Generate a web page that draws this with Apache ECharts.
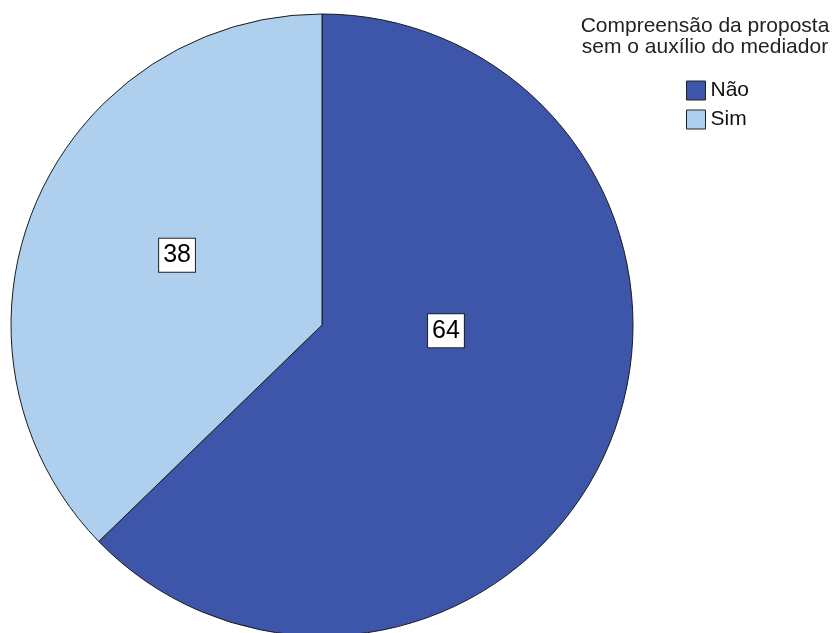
<!DOCTYPE html>
<html>
<head>
<meta charset="utf-8">
<script src="https://cdn.jsdelivr.net/npm/echarts@6/dist/echarts.min.js"></script>
<style>
  html, body { margin: 0; padding: 0; background: #fff; }
  #pie { width: 833px; height: 633px; }
</style>
</head>
<body>
<div id="pie"></div>
<script>
var categories = ['Não', 'Sim'];
var values = [64, 38];
var colors = ['#3d56aa', '#aed0ee'];
// label nudges to mimic the original placement
var labelOffsets = [[-22, -56], [1, -8]];

var chartDom = document.getElementById('pie');
var myChart = echarts.init(chartDom);
var option;
option = {
  animation: false,
  textStyle: { fontFamily: 'Liberation Sans, Arial, sans-serif' },
  title: {
    text: 'Compreensão da proposta\nsem o auxílio do mediador',
    left: 700,
    top: 11,
    textAlign: 'center',
    textStyle: {
      fontSize: 21,
      fontWeight: 'normal',
      color: '#222',
      lineHeight: 21
    }
  },
  legend: {
    orient: 'vertical',
    left: 686,
    top: 80,
    padding: 0,
    itemWidth: 19,
    itemHeight: 19,
    itemGap: 8,
    icon: 'rect',
    itemStyle: { borderColor: '#222', borderWidth: 1 },
    textStyle: { fontSize: 21, color: '#111', padding: [2, 0, 0, 0] },
    data: categories
  },
  series: [
    {
      name: 'Compreensão da proposta sem o auxílio do mediador',
      type: 'pie',
      radius: [0, 311],
      center: [322, 325],
      startAngle: 90,
      clockwise: true,
      itemStyle: {
        borderColor: '#1a1a1a',
        borderWidth: 1
      },
      label: {
        show: true,
        position: 'inside',
        formatter: '{c}',
        fontSize: 25,
        color: '#000',
        backgroundColor: '#fff',
        borderColor: '#222',
        borderWidth: 1,
        padding: [5, 4, 3, 4]
      },
      labelLine: { show: false },
      emphasis: { disabled: true },
      data: categories.map(function (name, i) {
        return {
          name: name,
          value: values[i],
          itemStyle: { color: colors[i] },
          label: { offset: labelOffsets[i] }
        };
      })
    }
  ]
};
myChart.setOption(option);
</script>
</body>
</html>
